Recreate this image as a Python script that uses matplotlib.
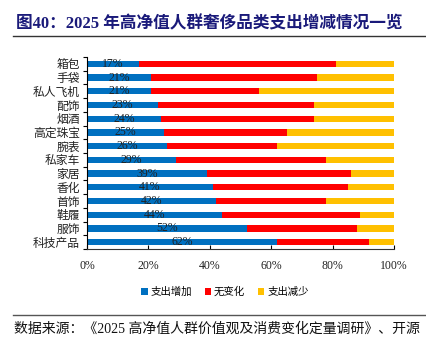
import matplotlib
matplotlib.use("Agg")
import matplotlib.pyplot as plt
from matplotlib.lines import Line2D
from matplotlib.patches import Patch
import numpy as np

categories = ["箱包", "手袋", "私人飞机", "配饰", "烟酒", "高定珠宝", "腕表",
              "私家车", "家居", "香化", "首饰", "鞋履", "服饰", "科技产品"]
increase = [17, 21, 21, 23, 24, 25, 26, 29, 39, 41, 42, 44, 52, 62]
nochange = [64, 54, 35, 51, 50, 40, 36, 49, 47, 44, 36, 45, 36, 30]
decrease = [100 - a - b for a, b in zip(increase, nochange)]
series_names = ["支出增加", "无变化", "支出减少"]
xticks = [0, 20, 40, 60, 80, 100]
title = "图40：2025 年高净值人群奢侈品类支出增减情况一览"
source = "数据来源：《2025 高净值人群价值观及消费变化定量调研》、开源"

colors = ["#0070C0", "#FF0000", "#FFC000"]
fam = ["Liberation Serif", "Noto Sans CJK SC", "DejaVu Sans"]
plt.rcParams["font.family"] = fam

fig = plt.figure(figsize=(4.27, 3.43), dpi=100)
ax = fig.add_axes([87/427, 1-249/343, (394-87)/427, (249-57)/343])

y = np.arange(len(categories))
h = 0.45
inc = np.array(increase); nc = np.array(nochange); dc = np.array(decrease)
ax.barh(y, inc, height=h, color=colors[0])
ax.barh(y, nc, left=inc, height=h, color=colors[1])
ax.barh(y, dc, left=inc + nc, height=h, color=colors[2])
for yi, v in zip(y, inc):
    ax.text(v / 2, yi, f"{v}%", ha="center", va="center", fontsize=8.5,
            color="#222222", family=fam)

ax.set_ylim(len(categories) - 0.5, -0.5)
ax.set_xlim(0, 100)
ax.set_yticks(y)
ax.set_yticklabels(categories, fontsize=8.5, family=fam, color="#222222")
ax.tick_params(axis="y", which="major", length=0, pad=5)
ax.set_yticks(np.arange(-0.5, len(categories), 1), minor=True)
ax.tick_params(axis="y", which="minor", length=3, direction="out", width=0.8)
ax.set_xticks(xticks)
ax.set_xticklabels([f"{t}%" for t in xticks], fontsize=8.5, family=fam, color="#222222")
ax.tick_params(axis="x", length=3, direction="in", width=0.8, pad=8)
for s in ["top", "right"]:
    ax.spines[s].set_visible(False)
ax.spines["left"].set_linewidth(0.8)
ax.spines["bottom"].set_linewidth(0.8)
ax.spines["bottom"].set_color("#333333")

handles = [Patch(facecolor=c) for c in colors]
fig.legend(handles, series_names, loc="center", bbox_to_anchor=(225/427, 1-292/343),
           ncol=3, frameon=False, handlelength=0.6, handleheight=0.6,
           handletextpad=0.3, columnspacing=1.2, prop={"family": fam, "size": 7.5})

fig.text(16/427, 1-24/343, title, fontsize=12, fontweight="bold", color="#1A1A7A",
         va="center", ha="left", family=fam)
fig.add_artist(Line2D([13/427, 425/427], [1-36/343, 1-36/343], color="#333333", lw=1,
                      transform=fig.transFigure))
fig.add_artist(Line2D([13/427, 425/427], [1-315/343, 1-315/343], color="#555555", lw=1,
                      transform=fig.transFigure))
fig.text(14/427, 1-329/343, source, fontsize=10, color="#111111", va="center",
         ha="left", family=fam)

fig.savefig("out.png", dpi=100)
